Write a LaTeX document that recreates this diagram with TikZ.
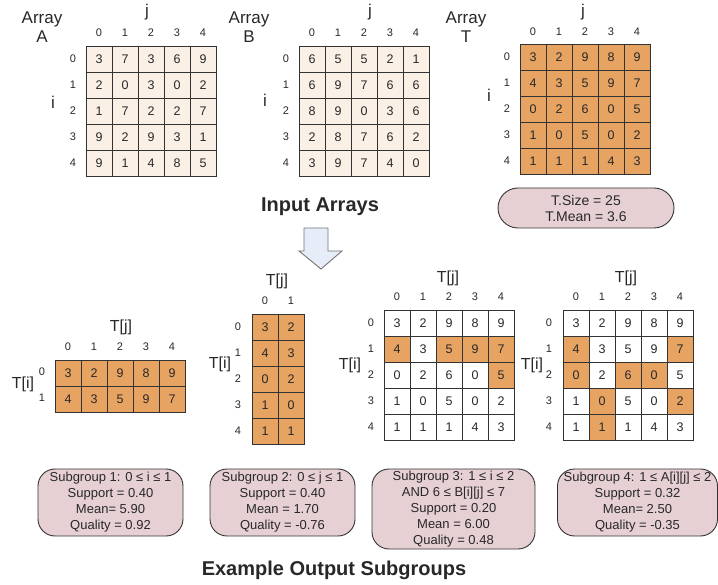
\documentclass[tikz,border=0pt]{standalone}
\usepackage{fontspec}
\setmainfont{Liberation Sans}
\usetikzlibrary{shapes.misc}
\definecolor{beige}{RGB}{250,240,230}
\definecolor{orangecell}{RGB}{231,163,98}
\definecolor{pinkpill}{RGB}{230,208,212}
\definecolor{arrowfill}{RGB}{230,236,248}
\definecolor{txt}{RGB}{40,40,40}
\begin{document}
\begin{tikzpicture}[x=1pt,y=-1pt,
  every node/.style={text=txt},
  cell/.style={draw=black!80, line width=0.9pt, minimum size=26pt, inner sep=0pt, font=\fontsize{12.5}{12.5}\selectfont},
  cellz0/.style={cell, fill=white},
  cellz1/.style={cell, fill=orangecell},
  idx/.style={inner sep=0pt, font=\fontsize{11}{11}\selectfont},
  biglab/.style={inner sep=0pt, font=\fontsize{17}{19}\selectfont, align=center},
  tlab/.style={inner sep=0pt, font=\fontsize{16}{16}\selectfont},
  heading/.style={inner sep=0pt, font=\fontsize{20}{20}\selectfont\bfseries},
  pill/.style={draw=black!80, line width=0.9pt, fill=pinkpill, rounded corners=17pt, inner sep=0pt, align=center, font=\fontsize{13}{16}\selectfont},
  tpill/.style={draw=black!80, line width=0.9pt, fill=pinkpill, rounded rectangle, inner sep=0pt, align=center, font=\fontsize{14}{16}\selectfont},
  bigarrow/.style={draw=black!55, line width=0.9pt, fill=arrowfill}
]
\useasboundingbox (0,0) rectangle (718,585);

% ---------- Array A ----------
\node[biglab] (A-title) at (42,27) {Array\\A};
\node[biglab] (A-j) at (147,12) {j};
\node[biglab] (A-i) at (53,102) {i};
\foreach \r/\row in {0/{3,7,3,6,9},1/{2,0,3,0,2},2/{1,7,2,2,7},3/{9,2,9,3,1},4/{9,1,4,8,5}}
  \foreach \v [count=\c from 0] in \row
    \node[cell, fill=beige] (A-\r-\c) at ({99+26*\c},{59+26*\r}) {\v};
\foreach \k in {0,...,4} {
  \node[idx] (A-r\k) at (73,{59+26*\k}) {\k};
  \node[idx] (A-c\k) at ({99+26*\k},33) {\k};
}

% ---------- Array B ----------
\node[biglab] (B-title) at (249,27) {Array\\B};
\node[biglab] (B-j) at (370,12) {j};
\node[biglab] (B-i) at (265,100) {i};
\foreach \r/\row in {0/{6,5,5,2,1},1/{6,9,7,6,6},2/{8,9,0,3,6},3/{2,8,7,6,2},4/{3,9,7,4,0}}
  \foreach \v [count=\c from 0] in \row
    \node[cell, fill=beige] (B-\r-\c) at ({312+26*\c},{59+26*\r}) {\v};
\foreach \k in {0,...,4} {
  \node[idx] (B-r\k) at (286,{59+26*\k}) {\k};
  \node[idx] (B-c\k) at ({312+26*\k},33) {\k};
}

% ---------- Array T ----------
\node[biglab] (T-title) at (466,27) {Array\\T};
\node[biglab] (T-j) at (583,12) {j};
\node[biglab] (T-i) at (489,95) {i};
\foreach \r/\row in {0/{3,2,9,8,9},1/{4,3,5,9,7},2/{0,2,6,0,5},3/{1,0,5,0,2},4/{1,1,1,4,3}}
  \foreach \v [count=\c from 0] in \row
    \node[cellz1] (T-\r-\c) at ({533+26*\c},{57+26*\r}) {\v};
\foreach \k in {0,...,4} {
  \node[idx] (T-r\k) at (507,{57+26*\k}) {\k};
  \node[idx] (T-c\k) at ({533+26*\k},32) {\k};
}
\node[tpill, minimum width=176pt, minimum height=40pt] (T-stats) at (586,208) {T.Size = 25\\T.Mean = 3.6};

\node[heading] (input) at (320,207) {Input Arrays};

% ---------- Big arrow ----------
\draw[bigarrow] (304,228) -- (328,228) -- (328,251) -- (342,251) -- (321,269) -- (299,251) -- (304,251) -- cycle;

% ---------- Subgroup 1 grid ----------
\node[tlab] (G1-j) at (121,327) {T[j]};
\node[tlab] (G1-i) at (23,384) {T[i]};
\foreach \r/\row in {0/{3,2,9,8,9},1/{4,3,5,9,7}}
  \foreach \v [count=\c from 0] in \row
    \node[cellz1] (G1-\r-\c) at ({68+26*\c},{373+26*\r}) {\v};
\foreach \k in {0,1} \node[idx] (G1-r\k) at (42,{372+26*\k}) {\k};
\foreach \k in {0,...,4} \node[idx] (G1-c\k) at ({68+26*\k},347) {\k};

% ---------- Subgroup 2 grid ----------
\node[tlab] (G2-j) at (277,281) {T[j]};
\node[tlab] (G2-i) at (220,364) {T[i]};
\foreach \r/\row in {0/{3,2},1/{4,3},2/{0,2},3/{1,0},4/{1,1}}
  \foreach \v [count=\c from 0] in \row
    \node[cellz1] (G2-\r-\c) at ({265+26*\c},{327+26*\r}) {\v};
\foreach \k in {0,...,4} \node[idx] (G2-r\k) at (238,{327+26*\k}) {\k};
\foreach \k in {0,1} \node[idx] (G2-c\k) at ({265+26*\k},301) {\k};

% ---------- Subgroup 3 grid ----------
\node[tlab] (G3-j) at (448,278) {T[j]};
\node[tlab] (G3-i) at (350,365) {T[i]};
\foreach \r/\row in {0/{3/0,2/0,9/0,8/0,9/0},1/{4/1,3/0,5/1,9/1,7/1},2/{0/0,2/0,6/0,0/0,5/1},3/{1/0,0/0,5/0,0/0,2/0},4/{1/0,1/0,1/0,4/0,3/0}}
  \foreach \v/\h [count=\c from 0] in \row
    \node[cellz\h] (G3-\r-\c) at ({397+26*\c},{323+26*\r}) {\v};
\foreach \k in {0,...,4} {
  \node[idx] (G3-r\k) at (371,{323+26*\k}) {\k};
  \node[idx] (G3-c\k) at ({397+26*\k},297) {\k};
}

% ---------- Subgroup 4 grid ----------
\node[tlab] (G4-j) at (626,278) {T[j]};
\node[tlab] (G4-i) at (532,365) {T[i]};
\foreach \r/\row in {0/{3/0,2/0,9/0,8/0,9/0},1/{4/1,3/0,5/0,9/0,7/1},2/{0/1,2/0,6/1,0/1,5/0},3/{1/0,0/1,5/0,0/0,2/1},4/{1/0,1/1,1/0,4/0,3/0}}
  \foreach \v/\h [count=\c from 0] in \row
    \node[cellz\h] (G4-\r-\c) at ({576+26*\c},{323+26*\r}) {\v};
\foreach \k in {0,...,4} {
  \node[idx] (G4-r\k) at (549,{323+26*\k}) {\k};
  \node[idx] (G4-c\k) at ({576+26*\k},297) {\k};
}

% ---------- Subgroup boxes ----------
\node[pill, minimum width=145pt, minimum height=67pt] (S1) at (110.5,502.5)
  {Subgroup 1: 0 ≤ i ≤ 1\\Support = 0.40\\Mean= 5.90\\Quality = 0.92};
\node[pill, minimum width=145pt, minimum height=67pt] (S2) at (282.5,502.5)
  {Subgroup 2: 0 ≤ j ≤ 1\\Support = 0.40\\Mean = 1.70\\Quality = -0.76};
\node[pill, minimum width=163pt, minimum height=80pt] (S3) at (453.5,509)
  {Subgroup 3: 1 ≤ i ≤ 2\\AND 6 ≤ B[i][j] ≤ 7\\Support = 0.20\\Mean = 6.00\\Quality = 0.48};
\node[pill, minimum width=160pt, minimum height=67pt] (S4) at (637.5,502.5)
  {Subgroup 4: 1 ≤ A[i][j] ≤ 2\\Support = 0.32\\Mean= 2.50\\Quality = -0.35};

\node[heading] (output) at (334,570) {Example Output Subgroups};
\end{tikzpicture}
\end{document}
